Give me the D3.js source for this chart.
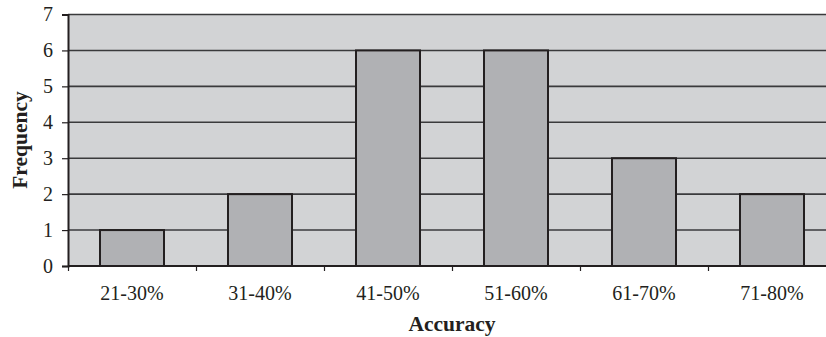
<!DOCTYPE html>
<html>
<head>
<meta charset="utf-8">
<script src="https://cdn.jsdelivr.net/npm/d3@7"></script>
<style>
  html, body { margin: 0; padding: 0; background: #ffffff; overflow: hidden; }
  svg { display: block; }
</style>
</head>
<body>
<svg id="chart" width="826" height="337"></svg>
<script>
const categories = ["21-30%", "31-40%", "41-50%", "51-60%", "61-70%", "71-80%"];
const frequency = [1, 2, 6, 6, 3, 2];
const yTicks = [0, 1, 2, 3, 4, 5, 6, 7];
const xTitle = "Accuracy";
const yTitle = "Frequency";

const svg = d3.select("#chart");
const mLeft = 68, mRight = 836, mTop = 14.5, mBottom = 266;
const font = "'Liberation Serif', 'Times New Roman', serif";

const x = d3.scaleBand().domain(categories).range([mLeft, mRight]).paddingInner(0.5).paddingOuter(0.25);
const y = d3.scaleLinear().domain([0, 7]).range([mBottom, mTop]);
const xb = d3.scaleLinear().domain([0, categories.length]).range([mLeft, mRight]);

// plot background
svg.append("rect").attr("x", mLeft).attr("y", mTop).attr("width", mRight - mLeft).attr("height", mBottom - mTop)
  .attr("fill", "#d2d3d5");

// gridlines
svg.append("g").selectAll("line").data(yTicks.filter(d => d > 0)).join("line")
  .attr("x1", mLeft).attr("x2", mRight)
  .attr("y1", d => y(d)).attr("y2", d => y(d))
  .attr("stroke", "#3a3a3c").attr("stroke-width", 1.6);

// bars
svg.append("g").selectAll("rect").data(categories).join("rect")
  .attr("x", d => x(d)).attr("width", x.bandwidth())
  .attr("y", (d, i) => y(frequency[i]))
  .attr("height", (d, i) => y(0) - y(frequency[i]))
  .attr("fill", "#b0b1b4").attr("stroke", "#231f20").attr("stroke-width", 2);

// y axis
const yAxis = svg.append("g").attr("transform", `translate(${mLeft},0)`)
  .call(d3.axisLeft(y).tickValues(yTicks).tickFormat(d3.format("d")).tickSize(6).tickPadding(9));
yAxis.select(".domain").attr("stroke", "#231f20").attr("stroke-width", 2);
yAxis.selectAll(".tick line").attr("stroke", "#231f20").attr("stroke-width", 1.2);
yAxis.selectAll(".tick text").attr("font-family", font).attr("font-size", 20).attr("fill", "#231f20");

// x axis: boundary ticks
const xTickG = svg.append("g").attr("transform", `translate(0,${mBottom})`)
  .call(d3.axisBottom(xb).tickValues(d3.range(categories.length + 1)).tickSize(5).tickFormat(""));
xTickG.select(".domain").remove();
xTickG.selectAll(".tick line").attr("stroke", "#231f20").attr("stroke-width", 1.2);

// x axis labels
const xAxis = svg.append("g").attr("transform", `translate(0,${mBottom})`)
  .call(d3.axisBottom(x).tickSize(0).tickPadding(20));
xAxis.select(".domain").attr("stroke", "#231f20").attr("stroke-width", 2)
  .attr("d", `M${mLeft},0H${mRight}`);
xAxis.selectAll(".tick text").attr("font-family", font).attr("font-size", 20).attr("fill", "#231f20");

// axis titles
svg.append("text").attr("x", 452).attr("y", 331).attr("text-anchor", "middle")
  .attr("font-family", font).attr("font-size", 21.5).attr("font-weight", "bold").attr("fill", "#231f20")
  .text(xTitle);
svg.append("text").attr("transform", "translate(27,140) rotate(-90)").attr("text-anchor", "middle")
  .attr("font-family", font).attr("font-size", 21.5).attr("font-weight", "bold").attr("fill", "#231f20")
  .text(yTitle);
</script>
</body>
</html>
